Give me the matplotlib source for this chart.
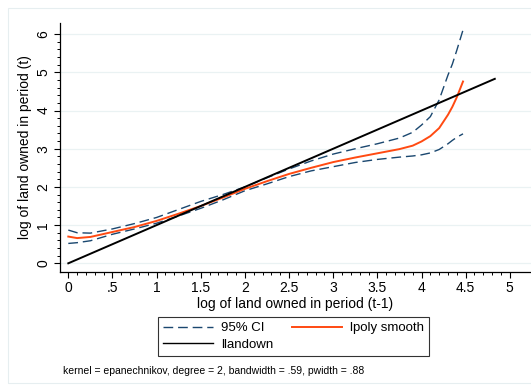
import numpy as np
import matplotlib.pyplot as plt

plt.rcParams['font.family'] = ['Liberation Sans', 'DejaVu Sans']

# lpoly fit
xs = [0, 0.1, 0.25, 0.5, 0.75, 1.0, 1.25, 1.5, 1.75, 2.0, 2.25, 2.5, 2.75,
      3.0, 3.25, 3.5, 3.75, 3.9, 4.0, 4.1, 4.2, 4.3, 4.35, 4.4, 4.47]
smooth = [0.70, 0.66, 0.69, 0.82, 0.95, 1.11, 1.30, 1.50, 1.72, 1.95, 2.15,
          2.34, 2.50, 2.65, 2.77, 2.88, 2.99, 3.08, 3.19, 3.33, 3.54, 3.89, 4.10, 4.35, 4.76]
ci_hi = [0.87, 0.80, 0.79, 0.90, 1.04, 1.20, 1.41, 1.62, 1.80, 2.00, 2.24,
         2.47, 2.68, 2.86, 3.00, 3.13, 3.28, 3.43, 3.62, 3.84, 4.28, 4.93, 5.22, 5.58, 6.11]
ci_lo = [0.52, 0.54, 0.59, 0.76, 0.90, 1.05, 1.24, 1.44, 1.66, 1.90, 2.08,
         2.27, 2.42, 2.53, 2.64, 2.72, 2.78, 2.81, 2.84, 2.89, 2.98, 3.13, 3.22, 3.30, 3.39]
llandown_x = [0, 4.83]
llandown_y = [0, 4.83]

xticks = [0, 0.5, 1, 1.5, 2, 2.5, 3, 3.5, 4, 4.5, 5]
xticklabels = ['0', '.5', '1', '1.5', '2', '2.5', '3', '3.5', '4', '4.5', '5']
yticks = [0, 1, 2, 3, 4, 5, 6]

navy = '#1a476f'
orange = '#ff4a12'

fig = plt.figure(figsize=(5.31, 3.87), dpi=100)
# faint outer frame like stata's graph region
fig.patches.append(plt.Rectangle((8/531, 4/387), 1, 1 - 12/387, transform=fig.transFigure,
                                 fill=False, ec='#e6eef0', lw=0.8))
ax = fig.add_axes([60/531, 1 - 271.7/387, 1 - 60/531, (271.7 - 22.7)/387])

ax.plot(xs, ci_hi, color=navy, lw=1.0, dashes=(7, 3.5))
ax.plot(xs, ci_lo, color=navy, lw=1.0, dashes=(7, 3.5))
ax.plot(xs, smooth, color=orange, lw=1.4)
ax.plot(llandown_x, llandown_y, color='black', lw=1.4)

ax.set_xlim(-0.094, 5.24)
ax.set_ylim(-0.22, 6.30)
ax.set_xticks(xticks)
ax.set_xticklabels(xticklabels)
ax.set_xticks(np.arange(0, 5.01, 0.1), minor=True)
ax.set_yticks(yticks)
ax.set_yticks(np.arange(0, 6.01, 0.2), minor=True)
for lab in ax.get_yticklabels():
    lab.set_rotation(90)
    lab.set_va('center')
ax.tick_params(labelsize=10, length=4, width=0.8, pad=3)
ax.tick_params(which='minor', length=2.2, width=0.7)
ax.yaxis.grid(True, color='#eaf2f3', lw=0.9)
ax.set_axisbelow(True)
for s in ['top', 'right']:
    ax.spines[s].set_visible(False)
ax.spines['left'].set_linewidth(0.9)
ax.spines['bottom'].set_linewidth(0.9)

ax.set_xlabel('log of land owned in period (t-1)', fontsize=10, labelpad=1)
ax.set_ylabel('log of land owned in period (t)', fontsize=10, labelpad=3)

h1 = plt.Line2D([], [], color=navy, lw=1.0, dashes=(7, 3.5))
h2 = plt.Line2D([], [], color=orange, lw=1.4)
h3 = plt.Line2D([], [], color='black', lw=1.0)
leg = fig.legend([h1, h3, h2], ['95% CI', 'llandown', 'lpoly smooth'], ncol=2,
                 loc='center', bbox_to_anchor=(293.5/531, 1 - 336.5/387),
                 fontsize=9.5, frameon=True, fancybox=False, edgecolor='black',
                 handlelength=3.8, columnspacing=1.4, borderpad=0.35,
                 labelspacing=0.35, handletextpad=0.6)
leg.get_frame().set_linewidth(0.8)

fig.text(63/531, 1 - 371/387, 'kernel = epanechnikov, degree = 2, bandwidth = .59, pwidth = .88',
         fontsize=7.5, va='center', ha='left')

fig.savefig('out.png', dpi=100)
